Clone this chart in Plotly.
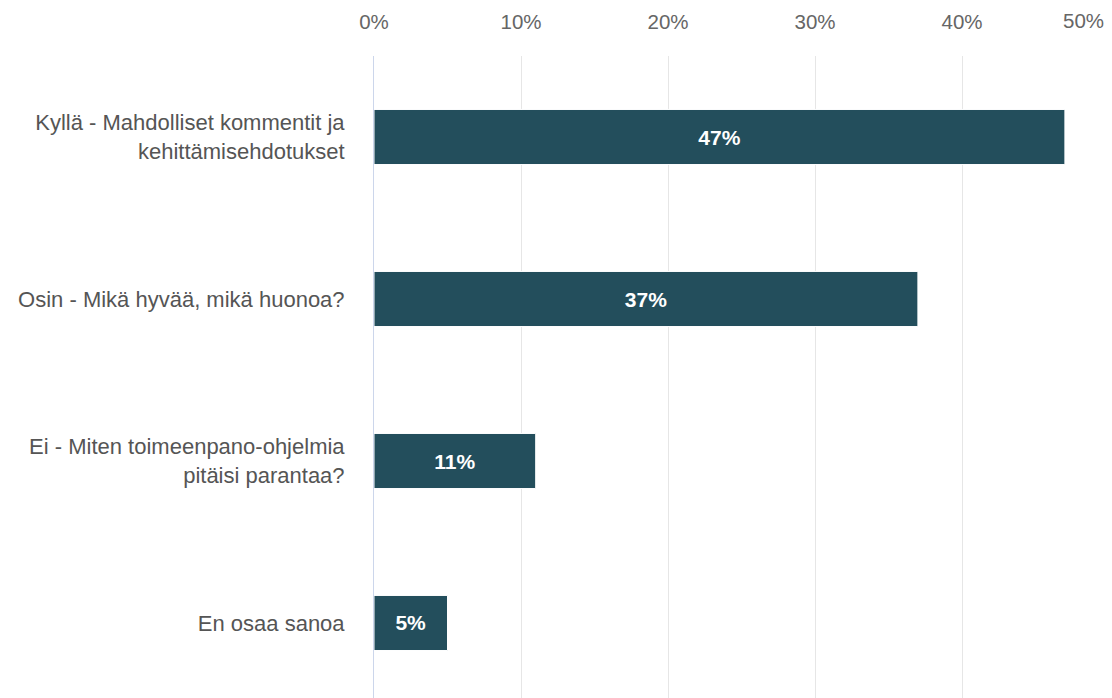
import plotly.graph_objects as go

# Survey answers and their shares (%)
categories = [
    "Kyllä - Mahdolliset kommentit ja<br>kehittämisehdotukset",
    "Osin - Mikä hyvää, mikä huonoa?",
    "Ei - Miten toimeenpano-ohjelmia<br>pitäisi parantaa?",
    "En osaa sanoa",
]
shares = [47, 37, 11, 5]
x_tick_values = [0, 10, 20, 30, 40, 50]
x_tick_labels = ["0%", "10%", "20%", "30%", "40%", ""]

FONT = "Liberation Sans, Arial, sans-serif"
BAR_COLOR = "#234e5c"
TICK_SIZE = 20.5
CATEGORY_SIZE = 22

fig = go.Figure(
    go.Bar(
        x=shares,
        y=categories,
        orientation="h",
        width=0.34,
        marker=dict(color=BAR_COLOR, line=dict(color="#ffffff", width=1)),
        text=[f"{v}%" for v in shares],
        textposition="inside",
        insidetextanchor="middle",
        constraintext="none",
        textfont=dict(family=FONT, size=21, color="#ffffff", weight="bold"),
        hoverinfo="skip",
    )
)

fig.update_layout(
    width=1112,
    height=698,
    margin=dict(l=374, r=3, t=56, b=0, pad=0),
    paper_bgcolor="#ffffff",
    plot_bgcolor="#ffffff",
    showlegend=False,
    font=dict(family=FONT),
)

fig.update_xaxes(
    side="top",
    range=[0, 50],
    tickvals=x_tick_values,
    ticktext=x_tick_labels,
    showgrid=True,
    gridcolor="#e6e6e6",
    gridwidth=1,
    zeroline=False,
    showline=False,
    ticks="",
    ticklabelstandoff=22,
    tickfont=dict(family=FONT, size=TICK_SIZE, color="#666666"),
)

fig.update_yaxes(
    type="category",
    categoryorder="array",
    categoryarray=categories,
    range=[3.463, -0.5],
    showgrid=False,
    zeroline=False,
    showline=True,
    linecolor="#ccd6eb",
    linewidth=1,
    ticks="",
    ticklabelstandoff=24,
    tickfont=dict(family=FONT, size=CATEGORY_SIZE, color="#555555"),
)

# The last axis label sits flush with the right edge of the chart
fig.add_annotation(
    x=1, y=1, xref="paper", yref="paper",
    xanchor="right", yanchor="bottom", yshift=22, xshift=-3,
    text="50%", showarrow=False,
    font=dict(family=FONT, size=TICK_SIZE, color="#666666"),
)

fig.write_html("out.html")
